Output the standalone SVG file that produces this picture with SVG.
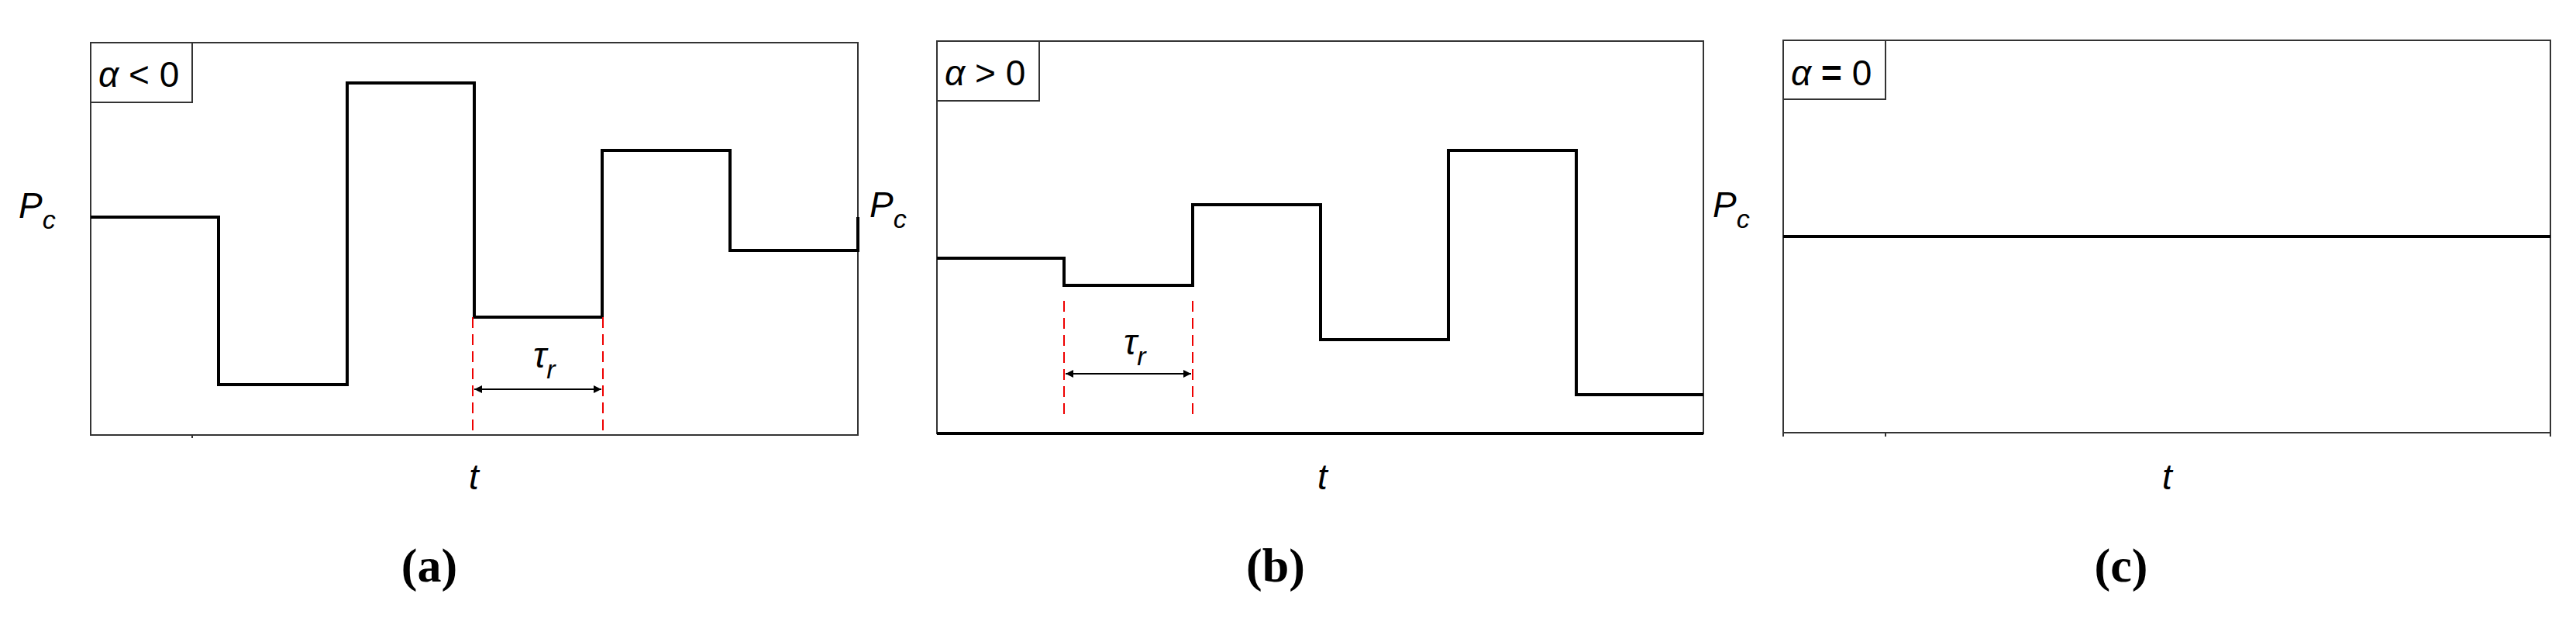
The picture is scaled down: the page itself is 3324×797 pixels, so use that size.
<svg xmlns="http://www.w3.org/2000/svg" width="3324" height="797" viewBox="0 0 3324 797">
<style>
.frame{fill:none;stroke:#333;stroke-width:2}
.sig{fill:none;stroke:#000;stroke-width:4}
.red{stroke:#e00;stroke-width:2;stroke-dasharray:14,8}
.arr{stroke:#000;stroke-width:2;marker-start:url(#ah);marker-end:url(#ah)}
.lab{font-family:"Liberation Sans",Arial,sans-serif;font-size:46px}
.it{font-style:italic}
.cap{font-family:"Liberation Serif","Times New Roman",serif;font-size:62px;font-weight:bold;text-anchor:middle}
</style>
<defs>
<marker id="ah" viewBox="0 0 10 10" refX="10" refY="5" markerWidth="9" markerHeight="5" orient="auto-start-reverse" markerUnits="strokeWidth"><path d="M0,0L10,5L0,10z" fill="#000"/></marker>
</defs>
<rect width="3324" height="797" fill="#fff"/>
<g id="panel-a">
<rect class="frame" x="117" y="55" width="990" height="506"/>
<path class="frame" d="M117,132H248V55M248,561v4"/>
<text class="lab" x="127" y="112"><tspan class="it">α</tspan> &lt; 0</text>
<path class="sig" d="M117,280H282V496H448V107H612V409H777V194H942V323H1107V280"/>
<text class="lab it" x="24" y="281">P<tspan font-size="34" dy="14">c</tspan></text>
<text class="lab it" x="605" y="631">t</text>
<text class="cap" x="554" y="750">(a)</text>
</g>
<g id="panel-b">
<rect class="frame" x="1209" y="53" width="989" height="506"/>
<path class="frame" d="M1209,130H1341V53"/>
<line x1="1209" y1="559" x2="2198" y2="559" stroke="#000" stroke-width="4"/>
<text class="lab" x="1219" y="110"><tspan class="it">α</tspan> &gt; 0</text>
<path class="sig" d="M1209,333H1373V368H1539V264H1704V438H1869V194H2034V509H2198"/>
<text class="lab it" x="1122" y="280">P<tspan font-size="34" dy="14">c</tspan></text>
<text class="lab it" x="1700" y="631">t</text>
<text class="cap" x="1646" y="750">(b)</text>
</g>
<g id="panel-c">
<rect class="frame" x="2301" y="52" width="990" height="506"/>
<path class="frame" d="M2301,128H2433V52M2433,558v5M2301,558v5M3291,558v5"/>
<text class="lab" x="2311" y="110"><tspan class="it">α</tspan> <tspan font-weight="bold">=</tspan> 0</text>
<line class="sig" x1="2301" y1="305" x2="3291" y2="305"/>
<text class="lab it" x="2210" y="280">P<tspan font-size="34" dy="14">c</tspan></text>
<text class="lab it" x="2790" y="631">t</text>
<text class="cap" x="2737" y="750">(c)</text>
</g>
<g id="connectors">
<line class="red" x1="610" y1="409" x2="610" y2="561"/>
<line class="red" x1="778" y1="409" x2="778" y2="561"/>
<line class="arr" x1="612" y1="502" x2="776" y2="502"/>
<text class="lab it" x="688" y="474">τ<tspan font-size="34" dy="14">r</tspan></text>
<line class="red" x1="1373" y1="388" x2="1373" y2="539"/>
<line class="red" x1="1539" y1="388" x2="1539" y2="539"/>
<line class="arr" x1="1375" y1="482" x2="1537" y2="482"/>
<text class="lab it" x="1450" y="457">τ<tspan font-size="34" dy="14">r</tspan></text>
</g>
</svg>
